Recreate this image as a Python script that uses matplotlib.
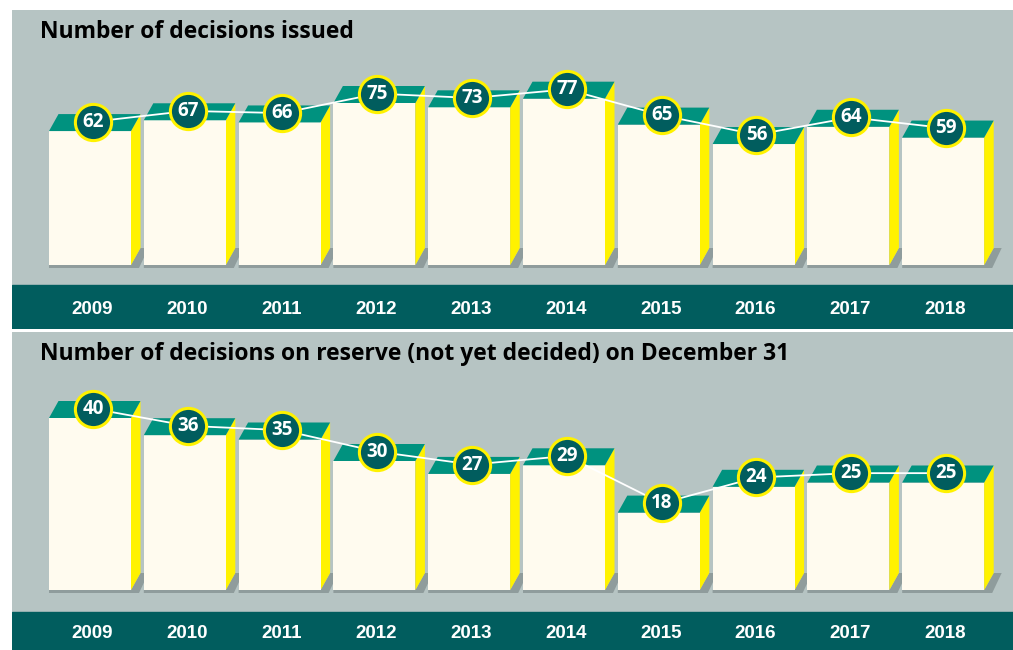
import matplotlib.pyplot as plt
from matplotlib.patches import Polygon

# Data
years = ['2009', '2010', '2011', '2012', '2013', '2014', '2015', '2016', '2017', '2018']
issued = [62, 67, 66, 75, 73, 77, 65, 56, 64, 59]
reserve = [40, 36, 35, 30, 27, 29, 18, 24, 25, 25]

title_issued = 'Number of decisions issued'
title_reserve = 'Number of decisions on reserve (not yet decided) on December 31'

# Colours
GRAY = '#b6c4c3'
BAND = '#015d5e'
FRONT = '#fffbef'
TOP = '#00927f'
SIDE = '#fff200'
SHADOW = '#8f9c9c'
CIRCLE = '#015d5e'

W, H = 1013, 650
STEP = 94.8          # px between bars
X0 = 90              # px centre of first bar front
BAR_W = 82 / STEP    # bar front width in category units

fig = plt.figure(figsize=(W / 100, H / 100), dpi=100, facecolor='white')


def draw_panel(values, title, top_px, base_px, scale, band_top, band_bot):
    ax = fig.add_axes([12 / W, 1 - band_bot / H, 1 - 12 / W, (band_bot - top_px) / H])
    ax.set_facecolor(GRAY)
    ax.set_xlim((12 - X0) / STEP, (W - X0) / STEP)
    ax.set_ylim((base_px - band_bot) / scale, (base_px - top_px) / scale)
    ax.axis('off')
    ax.add_patch(plt.Rectangle((0, 0), 1, 1, transform=ax.transAxes, color=GRAY, zorder=0))

    # band with the years
    ax.axhspan((base_px - band_bot) / scale, (base_px - band_top) / scale, color=BAND, zorder=1)
    ymid = (base_px - (band_top + band_bot) / 2 - 2) / scale
    for i, yr in enumerate(years):
        ax.text(i + 0.02, ymid, yr, color='white', fontsize=13.5, fontweight='bold',
                family='Liberation Sans', ha='center', va='center', zorder=5)

    # depth of the 3d boxes in data units
    dx = 9.5 / STEP
    dy = 17 / scale
    sx = 8 / STEP
    sy = 3 / scale

    cx, cy = [], []
    for i, v in enumerate(values):
        xl = i - BAR_W / 2
        xr = i + BAR_W / 2
        ax.add_patch(Polygon([(xl, 0), (xr, 0), (xr + dx, dy), (xr + dx + sx, dy),
                              (xr + sx, -sy), (xl, -sy)], closed=True,
                             fc=SHADOW, ec='none', zorder=2))
        ax.add_patch(Polygon([(xr, 0), (xr, v), (xr + dx, v + dy), (xr + dx, dy)],
                             closed=True, fc=SIDE, ec='none', zorder=3))
        ax.add_patch(Polygon([(xl, 0), (xr, 0), (xr, v), (xl, v)], closed=True,
                             fc=FRONT, ec='none', zorder=3))
        ax.add_patch(Polygon([(xl, v), (xr, v), (xr + dx, v + dy), (xl + dx, v + dy)],
                             closed=True, fc=TOP, ec='none', zorder=3))
        cx.append(i + 0.3 * dx)
        cy.append(v + 0.55 * dy)

    ax.plot(cx, cy, color='white', lw=1.3, zorder=4)
    ax.scatter(cx, cy, s=680, c=CIRCLE, edgecolors=SIDE, linewidths=2.2, zorder=5)
    for x, y, v in zip(cx, cy, values):
        ax.text(x, y, str(v), color='white', fontsize=13.5, fontweight='bold',
                family='Open Sans', ha='center', va='center', zorder=6)

    fig.text(40 / W, 1 - (top_px + 22) / H, title, fontsize=16.5, fontweight='bold',
             family='Open Sans', color='black', ha='left', va='center')
    return ax


draw_panel(issued, title_issued, 10, 265, 2.16, 285, 329)
draw_panel(reserve, title_reserve, 332, 590, 4.3, 612, 650)

plt.savefig('out.png', dpi=100, facecolor='white')
